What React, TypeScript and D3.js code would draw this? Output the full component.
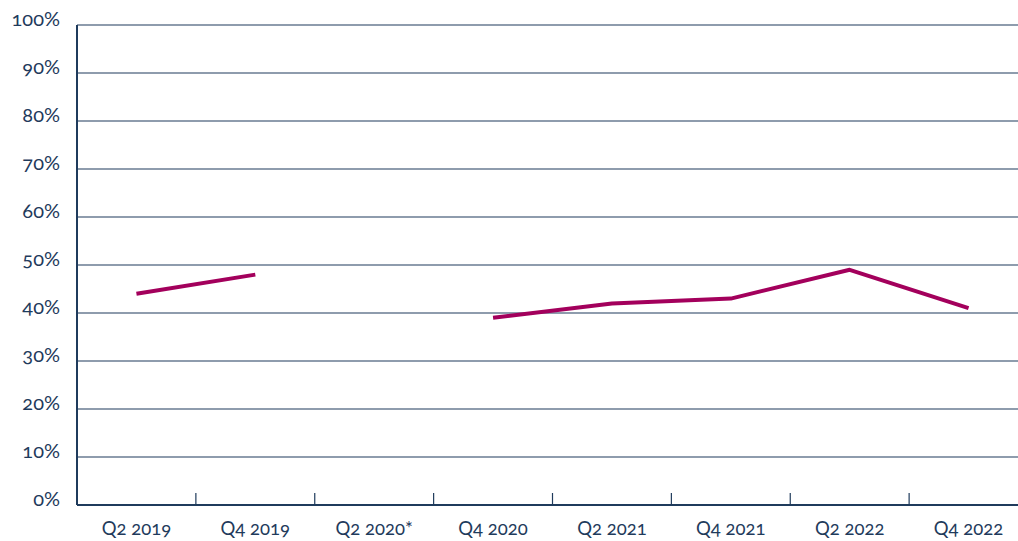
import React from "react";
import * as d3 from "d3";

const categories = ["Q2 2019", "Q4 2019", "Q2 2020*", "Q4 2020", "Q2 2021", "Q4 2021", "Q2 2022", "Q4 2022"];
const values: (number | null)[] = [44, 48, null, 39, 42, 43, 49, 41];
const yTicks = [0, 10, 20, 30, 40, 50, 60, 70, 80, 90, 100];

const W = 1018;
const H = 541;
const margin = { left: 77, right: -10, top: 25, bottom: 36 };
const axisColor = "#1f3b5c";
const lineColor = "#a3005c";
const font = "Lato, 'Open Sans', sans-serif";
const textStyle: React.CSSProperties = { fontVariantNumeric: "oldstyle-nums", fontFeatureSettings: "'onum' 1" };

export default function App() {
  const x = d3.scaleBand<string>().domain(categories).range([margin.left, W - margin.right]).padding(0);
  const y = d3.scaleLinear().domain([0, 100]).range([H - margin.bottom, margin.top]);
  const line = d3
    .line<number | null>()
    .defined((d) => d !== null)
    .x((_, i) => (x(categories[i]) as number) + x.bandwidth() / 2)
    .y((d) => y(d as number));
  const y0 = y(0);
  return (
    <svg width={W} height={H} style={{ position: "absolute", left: 0, top: 0, overflow: "hidden" }}>
      <rect width={W} height={H} fill="#fff" />
      {yTicks.map((t) => (
        <g key={t}>
          {t > 0 && (
            <line x1={margin.left} x2={W - margin.right} y1={y(t)} y2={y(t)} stroke={axisColor} strokeWidth={1.2} />
          )}
          <text x={60} y={y(t)} dy="0.05em" textAnchor="end" fontFamily={font} fontSize={20} fill={axisColor} style={textStyle}>
            {t}%
          </text>
        </g>
      ))}
      <line x1={margin.left} x2={margin.left} y1={y(100)} y2={y0} stroke={axisColor} strokeWidth={2} />
      <line x1={margin.left} x2={W - margin.right} y1={y0} y2={y0} stroke={axisColor} strokeWidth={2} />
      {categories.slice(1).map((c) => (
        <line key={c} x1={x(c)} x2={x(c)} y1={y0} y2={y0 - 12} stroke={axisColor} strokeWidth={1.2} />
      ))}
      {categories.map((c) => (
        <text
          key={c}
          x={(x(c) as number) + x.bandwidth() / 2}
          y={y0 + 30}
          textAnchor="middle"
          fontFamily={font}
          fontSize={18.5}
          fill={axisColor}
          style={textStyle}
        >
          {c}
        </text>
      ))}
      <path d={line(values) || ""} fill="none" stroke={lineColor} strokeWidth={4} strokeLinejoin="round" />
    </svg>
  );
}
